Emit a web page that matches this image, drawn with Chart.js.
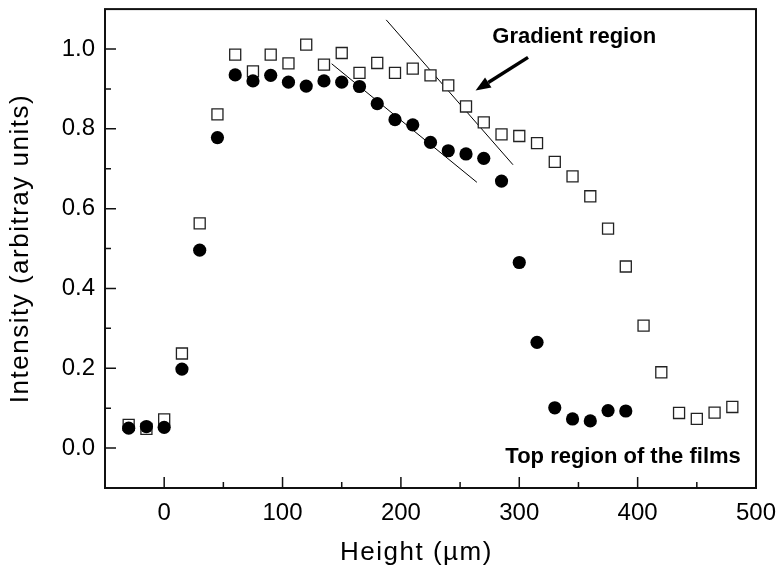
<!DOCTYPE html>
<html>
<head>
<meta charset="utf-8">
<title>Intensity vs height</title>
<script src="https://cdn.jsdelivr.net/npm/chart.js@4/dist/chart.umd.min.js"></script>
<style>
  html, body { margin: 0; padding: 0; background: #fff; }
</style>
</head>
<body>
<canvas id="chart" width="779" height="572"></canvas>
<script>
// film data, height in um
const heightsA = [-30, -15, 0, 15, 30, 45, 60, 75, 90, 105, 120, 135, 150, 165, 180, 195, 210, 225, 240, 255, 270, 285, 300, 315, 330, 345, 360, 375, 390];
const intensityA = [0.050, 0.054, 0.052, 0.198, 0.496, 0.778, 0.935, 0.920, 0.934, 0.917, 0.907, 0.920, 0.917, 0.906, 0.863, 0.823, 0.810, 0.766, 0.745, 0.737, 0.726, 0.669, 0.465, 0.265, 0.101, 0.073, 0.068, 0.094, 0.093];

const heightsB = [-30, -15, 0, 15, 30, 45, 60, 75, 90, 105, 120, 135, 150, 165, 180, 195, 210, 225, 240, 255, 270, 285, 300, 315, 330, 345, 360, 375, 390, 405, 420, 435, 450, 465, 480];
const intensityB = [0.058, 0.048, 0.072, 0.237, 0.563, 0.836, 0.986, 0.944, 0.986, 0.964, 1.011, 0.961, 0.990, 0.940, 0.965, 0.940, 0.951, 0.934, 0.909, 0.856, 0.816, 0.786, 0.782, 0.764, 0.717, 0.681, 0.631, 0.550, 0.455, 0.307, 0.190, 0.088, 0.073, 0.089, 0.103];

// guide lines of the gradient region
const upperLineX = [187.6, 294.7];
const upperLineY = [1.073, 0.710];
const lowerLineX = [141.5, 264.2];
const lowerLineY = [0.963, 0.666];
const arrowX = [307.4, 263.1];
const arrowY = [0.979, 0.896];

const xTicks = [0, 100, 200, 300, 400, 500];
const xMinorTicks = [50, 150, 250, 350, 450];
const yTicks = [0.0, 0.2, 0.4, 0.6, 0.8, 1.0];
const yMinorTicks = [0.1, 0.3, 0.5, 0.7, 0.9];

const FONT = "'Liberation Sans', Arial, Helvetica, sans-serif";

function toPoints(xs, ys) {
  return xs.map((x, i) => ({ x: x, y: ys[i] }));
}

const frame = {
  id: "frame",
  afterDraw(chart) {
    const c = chart.ctx;
    const a = chart.chartArea;
    const xs = chart.scales.x;
    const ys = chart.scales.y;
    c.save();
    c.strokeStyle = "#111";
    c.lineWidth = 2;
    c.strokeRect(a.left, a.top, a.right - a.left, a.bottom - a.top);

    // inward ticks
    c.lineWidth = 1.5;
    c.beginPath();
    xTicks.forEach(v => { const p = xs.getPixelForValue(v); c.moveTo(p, a.bottom); c.lineTo(p, a.bottom - 11); });
    xMinorTicks.forEach(v => { const p = xs.getPixelForValue(v); c.moveTo(p, a.bottom); c.lineTo(p, a.bottom - 6); });
    yTicks.forEach(v => { const p = ys.getPixelForValue(v); c.moveTo(a.left, p); c.lineTo(a.left + 11, p); });
    yMinorTicks.forEach(v => { const p = ys.getPixelForValue(v); c.moveTo(a.left, p); c.lineTo(a.left + 6, p); });
    c.stroke();

    // arrow
    const x0 = xs.getPixelForValue(arrowX[0]), y0 = ys.getPixelForValue(arrowY[0]);
    const x1 = xs.getPixelForValue(arrowX[1]), y1 = ys.getPixelForValue(arrowY[1]);
    const ang = Math.atan2(y1 - y0, x1 - x0);
    const headLen = 15, headW = 6;
    const bx = x1 - headLen * Math.cos(ang), by = y1 - headLen * Math.sin(ang);
    c.strokeStyle = "#000";
    c.lineWidth = 3.5;
    c.beginPath();
    c.moveTo(x0, y0);
    c.lineTo(bx, by);
    c.stroke();
    c.fillStyle = "#000";
    c.beginPath();
    c.moveTo(x1, y1);
    c.lineTo(bx + headW * Math.sin(ang), by - headW * Math.cos(ang));
    c.lineTo(bx - headW * Math.sin(ang), by + headW * Math.cos(ang));
    c.closePath();
    c.fill();

    // annotations
    c.fillStyle = "#000";
    c.textAlign = "center";
    c.textBaseline = "alphabetic";
    c.font = "bold 22px " + FONT;
    c.fillText("Gradient region", xs.getPixelForValue(346.4), 43);
    c.fillText("Top region of the films", xs.getPixelForValue(387.7), 463);

    // axis titles, a bit wider spaced than the tick labels
    c.font = "26px " + FONT;
    c.letterSpacing = "1.5px";
    c.fillText("Height (\u00b5m)", (a.left + a.right) / 2 - 14, 560);
    c.translate(20.5, (a.top + a.bottom) / 2);
    c.rotate(-Math.PI / 2);
    c.textBaseline = "middle";
    c.fillText("Intensity (arbitray units)", 0, 0);
    c.restore();
  }
};

new Chart(document.getElementById("chart"), {
  type: "scatter",
  data: {
    datasets: [
      {
        label: "film A",
        data: toPoints(heightsA, intensityA),
        pointStyle: "circle",
        pointRadius: 6.6,
        backgroundColor: "#000",
        borderColor: "#000",
        borderWidth: 0
      },
      {
        label: "film B",
        data: toPoints(heightsB, intensityB),
        pointStyle: "rect",
        pointRadius: 7.8,
        backgroundColor: "#fff",
        borderColor: "#222",
        borderWidth: 1.3
      },
      {
        label: "upper",
        data: toPoints(upperLineX, upperLineY),
        showLine: true,
        pointRadius: 0,
        borderColor: "#000",
        borderWidth: 1
      },
      {
        label: "lower",
        data: toPoints(lowerLineX, lowerLineY),
        showLine: true,
        pointRadius: 0,
        borderColor: "#000",
        borderWidth: 1
      }
    ]
  },
  options: {
    responsive: false,
    animation: false,
    events: [],
    layout: { padding: { top: 6, right: 23, left: 0, bottom: 0 } },
    plugins: {
      legend: { display: false },
      tooltip: { enabled: false }
    },
    scales: {
      x: {
        type: "linear",
        min: -50,
        max: 500,
        afterBuildTicks: s => { s.ticks = xTicks.map(v => ({ value: v })); },
        afterFit: s => { s.height = 84; s.paddingLeft = 0; s.paddingRight = 0; },
        grid: { display: false, drawTicks: false },
        border: { display: false },
        ticks: {
          padding: 11,
          maxRotation: 0,
          color: "#000",
          font: { family: FONT, size: 24 },
          callback: v => String(v)
        }
      },
      y: {
        type: "linear",
        min: -0.1,
        max: 1.1,
        afterBuildTicks: s => { s.ticks = yTicks.map(v => ({ value: v })); },
        afterFit: s => { s.width = 105; s.paddingTop = 0; s.paddingBottom = 0; },
        grid: { display: false, drawTicks: false },
        border: { display: false },
        ticks: {
          padding: 10,
          color: "#000",
          font: { family: FONT, size: 24 },
          callback: v => v.toFixed(1)
        }
      }
    }
  },
  plugins: [frame]
});
</script>
</body>
</html>
